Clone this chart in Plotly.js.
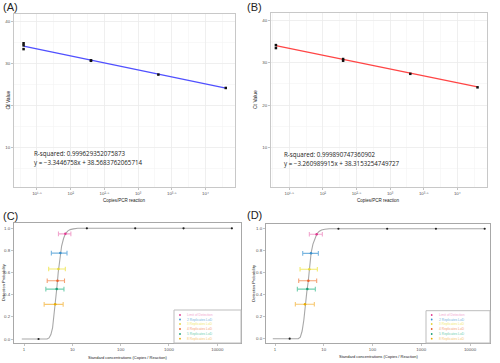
<!DOCTYPE html>
<html><head><meta charset="utf-8">
<script src="https://cdn.plot.ly/plotly-3.0.1.min.js"></script>
<style>html,body{margin:0;padding:0;background:#fff}#chart{width:500px;height:363px}</style>
</head><body><div id="chart"></div>
<script>
const W = 500, H = 363;

// ---- Panels A / B : standard curves ----
const copiesA = [20, 20, 20, 200, 200, 2000, 20000];
const ctA = [34.9, 34.4, 33.5, 30.8, 30.7, 27.4, 24.2];
const fitXA = [20, 20000];
const fitYA = [34.22, 24.18];
const copiesB = [20, 20, 200, 200, 2000, 20000];
const ctB = [34.2, 33.5, 30.9, 30.5, 27.4, 24.2];
const fitXB = [20, 20000];
const fitYB = [34.07, 24.29];
const eqA = ["R-squared: 0.999629352075873", "y = \u22123.3446758x + 38.5683762065714"];
const eqB = ["R-squared: 0.999890747360902", "y = \u22123.260989915x + 38.3153254749727"];
const stdTickText = ["10\u00B9\u00B7\u2075", "10\u00B2", "10\u00B2\u00B7\u2075", "10\u00B3", "10\u00B3\u00B7\u2075", "10\u2074"];
const stdTickExp = [1.5, 2, 2.5, 3, 3.5, 4];
const ctTicks = [10, 20, 30, 40];

// ---- Panels C / D : detection probability ----
const lodLabels = ["Limit of Detection", "2 Replicates LoD", "3 Replicates LoD", "4 Replicates LoD", "5 Replicates LoD", "8 Replicates LoD"];
const lodProb = [0.95, 0.776, 0.632, 0.527, 0.451, 0.313];
const lodC = [7.18, 5.65, 5.16, 4.93, 4.74, 4.42];
const lodLoC = [5.16, 3.68, 3.24, 3.02, 2.83, 2.61];
const lodHiC = [9.33, 7.76, 7.16, 6.89, 6.71, 6.46];
const lodD = [7.16, 5.47, 5.06, 4.83, 4.60, 4.12];
const lodLoD = [5.06, 3.70, 3.26, 3.06, 2.87, 2.61];
const lodHiD = [9.35, 7.74, 7.38, 7.16, 6.71, 6.40];
const obsX = [2, 20, 200, 2000, 20000];
const obsP = [0, 1, 1, 1, 1];
const curveX = [0.9, 2, 3.0, 3.3, 3.6, 3.9, 4.2, 4.5, 4.8, 5.1, 5.5, 6.0, 6.6, 7.2, 8.0, 9.0, 10.5, 13, 20, 200, 2000, 20000];
const curvePC = [0, 0, 0, 0.01, 0.04, 0.10, 0.22, 0.37, 0.47, 0.60, 0.74, 0.84, 0.91, 0.95, 0.975, 0.988, 0.995, 1, 1, 1, 1, 1];
const curvePD = [0, 0, 0, 0.015, 0.07, 0.17, 0.33, 0.43, 0.52, 0.64, 0.78, 0.86, 0.92, 0.952, 0.975, 0.988, 0.995, 1, 1, 1, 1, 1];
const probTicks = [0, 0.2, 0.4, 0.6, 0.8, 1.0];
const probTickText = ["0.0", "0.2", "0.4", "0.6", "0.8", "1.0"];
const concTicks = [1, 10, 100, 1000, 10000];
const concTickText = ["1", "10", "100", "1000", "10000"];

// styles
const barColors = ["#F2A7CF", "#78B5E0", "#F2EA70", "#F5A275", "#72CFAF", "#F7C870"];
const ptColors = ["#E0388F", "#3A8FCB", "#E3D43A", "#E8602C", "#1B9E77", "#E6AB02"];
const FONT = "Liberation Sans, Arial, sans-serif";
const px = x => x / W, py = y => 1 - y / H;

const traces = [];
// A
traces.push({x: fitXA, y: fitYA, xaxis: 'x', yaxis: 'y', mode: 'lines', line: {color: '#5050FF', width: 1.2}, showlegend: false, hoverinfo: 'skip'});
traces.push({x: copiesA, y: ctA, xaxis: 'x', yaxis: 'y', mode: 'markers', marker: {color: '#111', size: 2.5, symbol: 'square'}, showlegend: false});
// B
traces.push({x: fitXB, y: fitYB, xaxis: 'x2', yaxis: 'y2', mode: 'lines', line: {color: '#FF4545', width: 1.2}, showlegend: false, hoverinfo: 'skip'});
traces.push({x: copiesB, y: ctB, xaxis: 'x2', yaxis: 'y2', mode: 'markers', marker: {color: '#111', size: 2.5, symbol: 'square'}, showlegend: false});

function probPanel(xa, ya, curveP, c, lo, hi) {
  traces.push({x: curveX, y: curveP, xaxis: xa, yaxis: ya, mode: 'lines', line: {color: '#A8A8A8', width: 1.1}, showlegend: false, hoverinfo: 'skip'});
  traces.push({x: obsX, y: obsP, xaxis: xa, yaxis: ya, mode: 'markers', marker: {color: '#222', size: 2.2}, showlegend: false});
  for (let i = 0; i < lodLabels.length; i++) {
    traces.push({
      x: [c[i]], y: [lodProb[i]], xaxis: xa, yaxis: ya, mode: 'markers', name: lodLabels[i],
      marker: {color: ptColors[i], size: 2.5},
      error_x: {type: 'data', symmetric: false, array: [hi[i] - c[i]], arrayminus: [c[i] - lo[i]], color: barColors[i], thickness: 1.1, width: 2.3},
      showlegend: false
    });
  }
}
probPanel('x3', 'y3', curvePC, lodC, lodLoC, lodHiC);
probPanel('x4', 'y4', curvePD, lodD, lodLoD, lodHiD);

const tickFont = {family: FONT, size: 4.4, color: '#555'};
function stdX(domain, range) {
  return {type: 'log', domain: domain, range: range, tickvals: stdTickExp.map(e => Math.pow(10, e)), ticktext: stdTickText,
    tickfont: tickFont, showgrid: true, gridcolor: '#EBEBEB', gridwidth: 0.8, showline: true, mirror: true, linecolor: '#C8C8C8', linewidth: 1,
    ticks: 'outside', ticklen: 2, tickcolor: '#888', tickwidth: 0.5, zeroline: false,
    minor: {tickvals: [1.25, 1.75, 2.25, 2.75, 3.25, 3.75, 4.25].map(e => Math.pow(10, e)), showgrid: true, gridcolor: '#F4F4F4', gridwidth: 0.6, ticks: ''}};
}
function stdY(domain, range, anchor) {
  return {domain: domain, range: range, tickvals: ctTicks, tickfont: tickFont, showgrid: true, gridcolor: '#EBEBEB', gridwidth: 0.8,
    showline: true, mirror: true, linecolor: '#C8C8C8', linewidth: 1, ticks: 'outside', ticklen: 2, tickcolor: '#888', tickwidth: 0.5, zeroline: false,
    minor: {tickvals: [5, 15, 25, 35], showgrid: true, gridcolor: '#F4F4F4', gridwidth: 0.6, ticks: ''}, anchor: anchor};
}
function probX(domain, range) {
  return {type: 'log', domain: domain, range: range, tickvals: concTicks, ticktext: concTickText, tickfont: tickFont,
    showgrid: false, showline: true, mirror: true, linecolor: '#A8A8A8', linewidth: 1, ticks: 'outside', ticklen: 2, tickcolor: '#888', tickwidth: 0.5, zeroline: false};
}
function probY(domain, range, anchor) {
  return {domain: domain, range: range, tickvals: probTicks, ticktext: probTickText, tickfont: tickFont,
    showgrid: false, showline: true, mirror: true, linecolor: '#A8A8A8', linewidth: 1, ticks: 'outside', ticklen: 2, tickcolor: '#888', tickwidth: 0.5, zeroline: false, anchor: anchor};
}

const annotations = [];
const shapes = [];
function txt(x, y, text, size, opts) {
  annotations.push(Object.assign({xref: 'paper', yref: 'paper', x: px(x), y: py(y), text: text, showarrow: false,
    font: {family: FONT, size: size, color: '#222'}, xanchor: 'center', yanchor: 'middle'}, opts || {}));
}
// panel letters
txt(1, 7, "(A)", 11, {xanchor: 'left'});
txt(245, 7, "(B)", 11, {xanchor: 'left'});
txt(1, 216, "(C)", 11, {xanchor: 'left'});
txt(245, 215, "(D)", 11, {xanchor: 'left'});
// axis titles
txt(7.5, 100, "Ct Value", 5, {textangle: -90});
txt(255, 100, "Ct Value", 5, {textangle: -90});
txt(124.5, 200, "Copies/PCR reaction", 4.5);
txt(378, 200, "Copies/PCR reaction", 4.5);
txt(3, 283, "Detection Probability", 4, {textangle: -90});
txt(252.7, 283, "Detection Probability", 4, {textangle: -90});
txt(127, 357, "Standard concentrations (Copies / Reaction)", 4);
txt(378, 356, "Standard concentrations (Copies / Reaction)", 4);
// equations
const eqFont = {family: "Open Sans, sans-serif", size: 6.2, color: '#222'};
txt(32, 153.3, eqA[0], 6.2, {xanchor: 'left', font: eqFont});
txt(32, 162.3, eqA[1], 6.2, {xanchor: 'left', font: eqFont});
txt(282, 154, eqB[0], 6.2, {xanchor: 'left', font: eqFont});
txt(282, 163.3, eqB[1], 6.2, {xanchor: 'left', font: eqFont});

// legends (C, D)
function legendBox(x0, y0, x1, y1, keyX, textX, rows) {
  shapes.push({type: 'rect', xref: 'paper', yref: 'paper', x0: px(x0), x1: px(x1), y0: py(y1), y1: py(y0), line: {color: '#BDBDBD', width: 1}, fillcolor: '#fff', layer: 'above'});
  for (let i = 0; i < lodLabels.length; i++) {
    shapes.push({type: 'circle', xref: 'paper', yref: 'paper', x0: px(keyX - 0.9), x1: px(keyX + 0.9), y0: py(rows[i] + 0.9), y1: py(rows[i] - 0.9), line: {width: 0}, fillcolor: ptColors[i], layer: 'above'});
    txt(textX, rows[i], lodLabels[i], 3.3, {xanchor: 'left', font: {family: "Liberation Sans", size: 3.3, color: barColors[i]}});
  }
}
legendBox(174, 310, 241, 343, 180, 185, [315, 319.5, 324, 329, 334, 338.7]);
legendBox(426, 310.7, 490, 343, 431.7, 437, [315, 319.5, 324, 329, 334, 338.7]);

const layout = {
  width: W, height: H, margin: {l: 0, r: 0, t: 0, b: 0}, paper_bgcolor: '#fff', plot_bgcolor: '#fff', showlegend: false,
  font: {family: FONT},
  xaxis: stdX([px(14), px(235)], [1.159, 4.438]),
  yaxis: stdY([py(187), py(14)], [0.5, 41.9], 'x'),
  xaxis2: Object.assign(stdX([px(271), px(487)], [1.228, 4.442]), {anchor: 'y2'}),
  yaxis2: stdY([py(187), py(13)], [0.6, 41.8], 'x2'),
  xaxis3: Object.assign(probX([px(14), px(241)], [-0.207, 4.49]), {anchor: 'y3'}),
  yaxis3: probY([py(343), py(223)], [-0.036, 1.048], 'x3'),
  xaxis4: Object.assign(probX([px(266), px(490)], [-0.185, 4.41]), {anchor: 'y4'}),
  yaxis4: probY([py(343), py(224)], [-0.039, 1.043], 'x4'),
  annotations: annotations, shapes: shapes
};
layout.xaxis.anchor = 'y';
Plotly.newPlot('chart', traces, layout, {staticPlot: true, displayModeBar: false});
</script></body></html>
